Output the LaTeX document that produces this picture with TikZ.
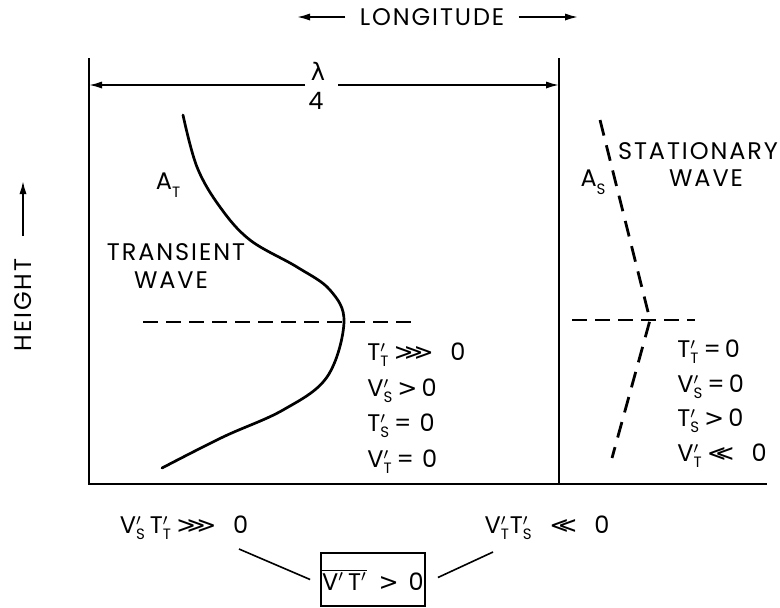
\documentclass[tikz,border=0pt]{standalone}
\usepackage{fontspec}
\setmainfont{Poppins}[LetterSpace=8]
\newfontfamily\symf{DejaVu Sans}
\usetikzlibrary{arrows.meta}
\newcommand\pv[2]{#1$^{\prime}_{\hbox{\fontsize{7.5}{8}\selectfont #2}}$}
\newcommand\ggt{{\symf >}}
\newcommand\ggg{{\symf >\kern-5pt>\kern-5pt>}}
\newcommand\lll{{\symf <\kern-6pt<}}
\begin{document}
\begin{tikzpicture}[x=0.5pt,y=-0.5pt,
  lbl/.style={inner sep=0pt,font=\fontsize{12}{14}\selectfont},
  eq/.style={lbl,anchor=west},
  frame/.style={line width=1.3pt},
  thinarrow/.style={line width=0.9pt,-{Latex[length=6.5pt,width=3.6pt]}},
  curve/.style={line width=1.35pt,line cap=round},
  dashline/.style={line width=0.9pt,dash pattern=on 7.5pt off 4pt},
  dashcurve/.style={line width=1.4pt,dash pattern=on 8pt off 5pt},
  conn/.style={line width=0.8pt}]
\useasboundingbox (0,0) rectangle (780,607);
% frame
\coordinate (lt) at (89,58); \coordinate (lb) at (89,484);
\coordinate (mt) at (559,58); \coordinate (mb) at (559,484);
\coordinate (bl) at (88,484); \coordinate (br) at (767,484);
\draw[frame] (lt) -- (lb);
\draw[frame] (mt) -- (mb);
\draw[line width=1pt] (bl) -- (br);
% longitude
\node[lbl] (lon) at (432,17) {LONGITUDE};
\coordinate (lonL) at (297,17); \coordinate (lonR) at (578,17);
\draw[thinarrow] (lon.west) ++(-14,0) coordinate (la) -- (lonL);
\draw[thinarrow] (lon.east) ++(14,0) coordinate (ra) -- (lonR);
% lambda/4
\node[lbl] (lam) at (318,71) {\symf λ};
\node[lbl] (four) at (316,101) {4};
\coordinate (lamL) at (305,85); \coordinate (lamR) at (338,85);
\coordinate (la1) at (89,85); \coordinate (ra1) at (559,85);
\draw[thinarrow] (lamL) -- (la1);
\draw[thinarrow] (lamR) -- (ra1);
% height
\node[lbl,rotate=90] (hgt) at (23,305) {HEIGHT};
\coordinate (h0) at (23,236); \coordinate (h1) at (23,181);
\draw[thinarrow] (h0) -- (h1);
% transient curve
\draw[curve] plot[smooth,tension=0.6] coordinates {(183,115) (197,167) (220,207) (250,240) (297,267) (330,290) (344,322) (327,377) (283,410) (223,437) (162,468)};
\coordinate (d1a) at (143,322); \coordinate (d1b) at (413,322);
\draw[dashline] (d1a) -- (d1b);
\node[lbl] (AT) at (168,185) {A\raisebox{-0.6ex}{\fontsize{7.5}{8}\selectfont T}};
\node[lbl] (tr1) at (176,252) {TRANSIENT};
\node[lbl] (tr2) at (171,280) {WAVE};
% stationary
\coordinate (s1) at (600,120); \coordinate (s2) at (650,320); \coordinate (s3) at (612,458);
\draw[dashcurve] (s1) -- (s2) -- (s3);
\coordinate (d2a) at (572,320); \coordinate (d2b) at (695,320);
\draw[dashline] (d2a) -- (d2b);
\node[lbl] (AS) at (593,182) {A\raisebox{-0.6ex}{\fontsize{7.5}{8}\selectfont S}};
\node[lbl] (st1) at (698,151) {STATIONARY};
\node[lbl] (st2) at (706,178) {WAVE};
% left equations
\node[eq] (e1) at (367,355) {\pv{T}{T}\,\ggg\ \ 0};
\node[eq] (e2) at (367,391) {\pv{V}{S}\,\ggt\,0};
\node[eq] (e3) at (367,426) {\pv{T}{S}\,=\,\,0};
\node[eq] (e4) at (367,462) {\pv{V}{T}\,=\,\,0};
% right equations
\node[eq] (f1) at (677,352) {\pv{T}{T}\,=\,0};
\node[eq] (f2) at (677,387) {\pv{V}{S}\,=\,0};
\node[eq] (f3) at (677,421) {\pv{T}{S}\,\ggt\,0};
\node[eq] (f4) at (677,456) {\pv{V}{T}\,\lll\ \ 0};
% bottom
\node[lbl] (bL) at (184,528) {\pv{V}{S}\,\pv{T}{T}\,\ggg\ \ 0};
\node[lbl] (bR) at (547,528) {\pv{V}{T}\pv{T}{S}\ \ \lll\ \ 0};
\node[lbl,draw,line width=0.9pt,minimum width=52pt,minimum height=26.5pt] (box) at (373,579.5) {$\overline{\hbox{V$^{\prime}$\,T$^{\prime}$}}$\hspace{6pt}\ggt\hspace{5pt}0};
\coordinate (c1) at (239,549); \coordinate (c2) at (493,552);
\draw[conn] (c1) -- ([xshift=-5pt,yshift=0pt]box.west);
\draw[conn] (c2) -- ([xshift=6pt,yshift=1pt]box.east);
\end{tikzpicture}
\end{document}
